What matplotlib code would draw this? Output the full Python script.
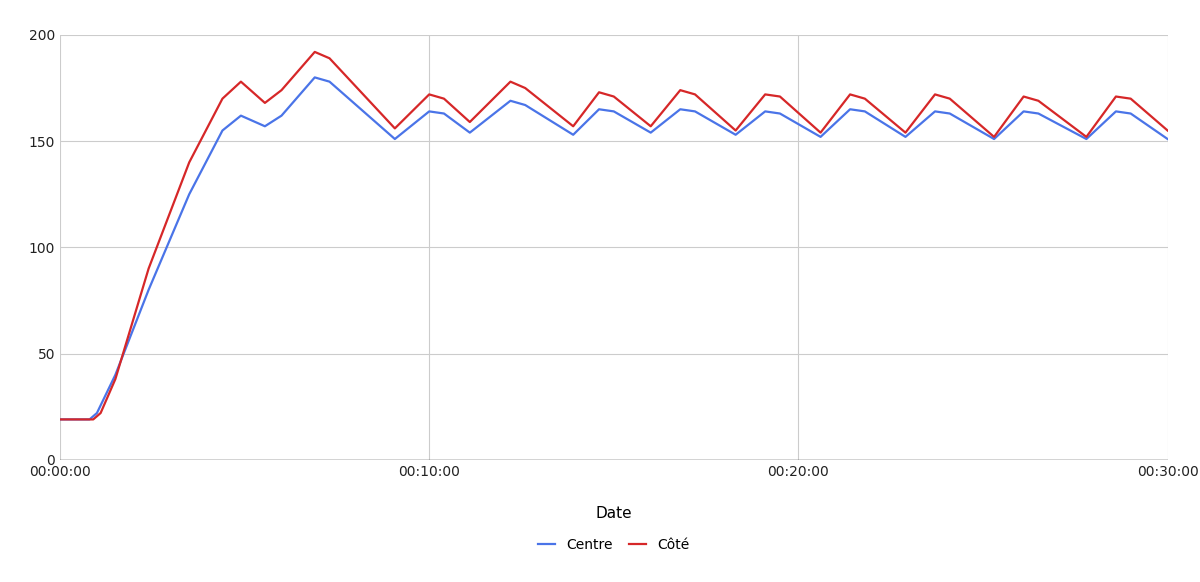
import matplotlib
matplotlib.use("Agg")
import matplotlib.pyplot as plt
from matplotlib.ticker import FuncFormatter, MultipleLocator

# keypoints (minutes, temperature)
centre_t = [0, 0.8, 1.0, 1.5, 2.4, 3.5, 4.4, 4.9, 5.55, 6.0, 6.9, 7.3, 9.07, 10.0, 10.4, 11.1,
            12.2, 12.6, 13.9, 14.6, 15.0, 16.0, 16.8, 17.2, 18.3, 19.1, 19.5, 20.6, 21.4, 21.8,
            22.9, 23.7, 24.1, 25.3, 26.1, 26.5, 27.8, 28.6, 29.0, 30.0]
centre_v = [19, 19, 22, 40, 80, 125, 155, 162, 157, 162, 180, 178, 151, 164, 163, 154,
            169, 167, 153, 165, 164, 154, 165, 164, 153, 164, 163, 152, 165, 164,
            152, 164, 163, 151, 164, 163, 151, 164, 163, 151]
cote_t = [0, 0.9, 1.1, 1.5, 2.4, 3.5, 4.4, 4.9, 5.55, 6.0, 6.9, 7.3, 9.07, 10.0, 10.4, 11.1,
          12.2, 12.6, 13.9, 14.6, 15.0, 16.0, 16.8, 17.2, 18.3, 19.1, 19.5, 20.6, 21.4, 21.8,
          22.9, 23.7, 24.1, 25.3, 26.1, 26.5, 27.8, 28.6, 29.0, 30.0]
cote_v = [19, 19, 22, 38, 90, 140, 170, 178, 168, 174, 192, 189, 156, 172, 170, 159,
          178, 175, 157, 173, 171, 157, 174, 172, 155, 172, 171, 154, 172, 170,
          154, 172, 170, 152, 171, 169, 152, 171, 170, 155]

fig = plt.figure(figsize=(12, 5.82), dpi=100)
ax = fig.add_axes([0.05, 0.21, 0.923, 0.73])
ax.plot(centre_t, centre_v, color="#4a74e8", lw=1.6, label="Centre")
ax.plot(cote_t, cote_v, color="#d62728", lw=1.6, label="Côté")

ax.set_xlim(0, 30)
ax.set_ylim(0, 200)
ax.xaxis.set_major_locator(MultipleLocator(10))
ax.yaxis.set_major_locator(MultipleLocator(50))
ax.xaxis.set_major_formatter(FuncFormatter(lambda v, p: "00:%02d:00" % int(v)))
ax.grid(True, color="#cccccc", lw=0.8)
ax.set_axisbelow(True)
for s in ax.spines.values():
    s.set_visible(False)
ax.axhline(0, color="#333333", lw=1)
ax.tick_params(length=0, labelsize=10, colors="#222222")
ax.set_xlabel("Date", fontsize=11, labelpad=20)
ax.legend(loc="center", bbox_to_anchor=(0.5, -0.2), ncol=2, frameon=False,
          fontsize=10, handlelength=1.2, columnspacing=1.2)

fig.savefig("out.png", dpi=100)
